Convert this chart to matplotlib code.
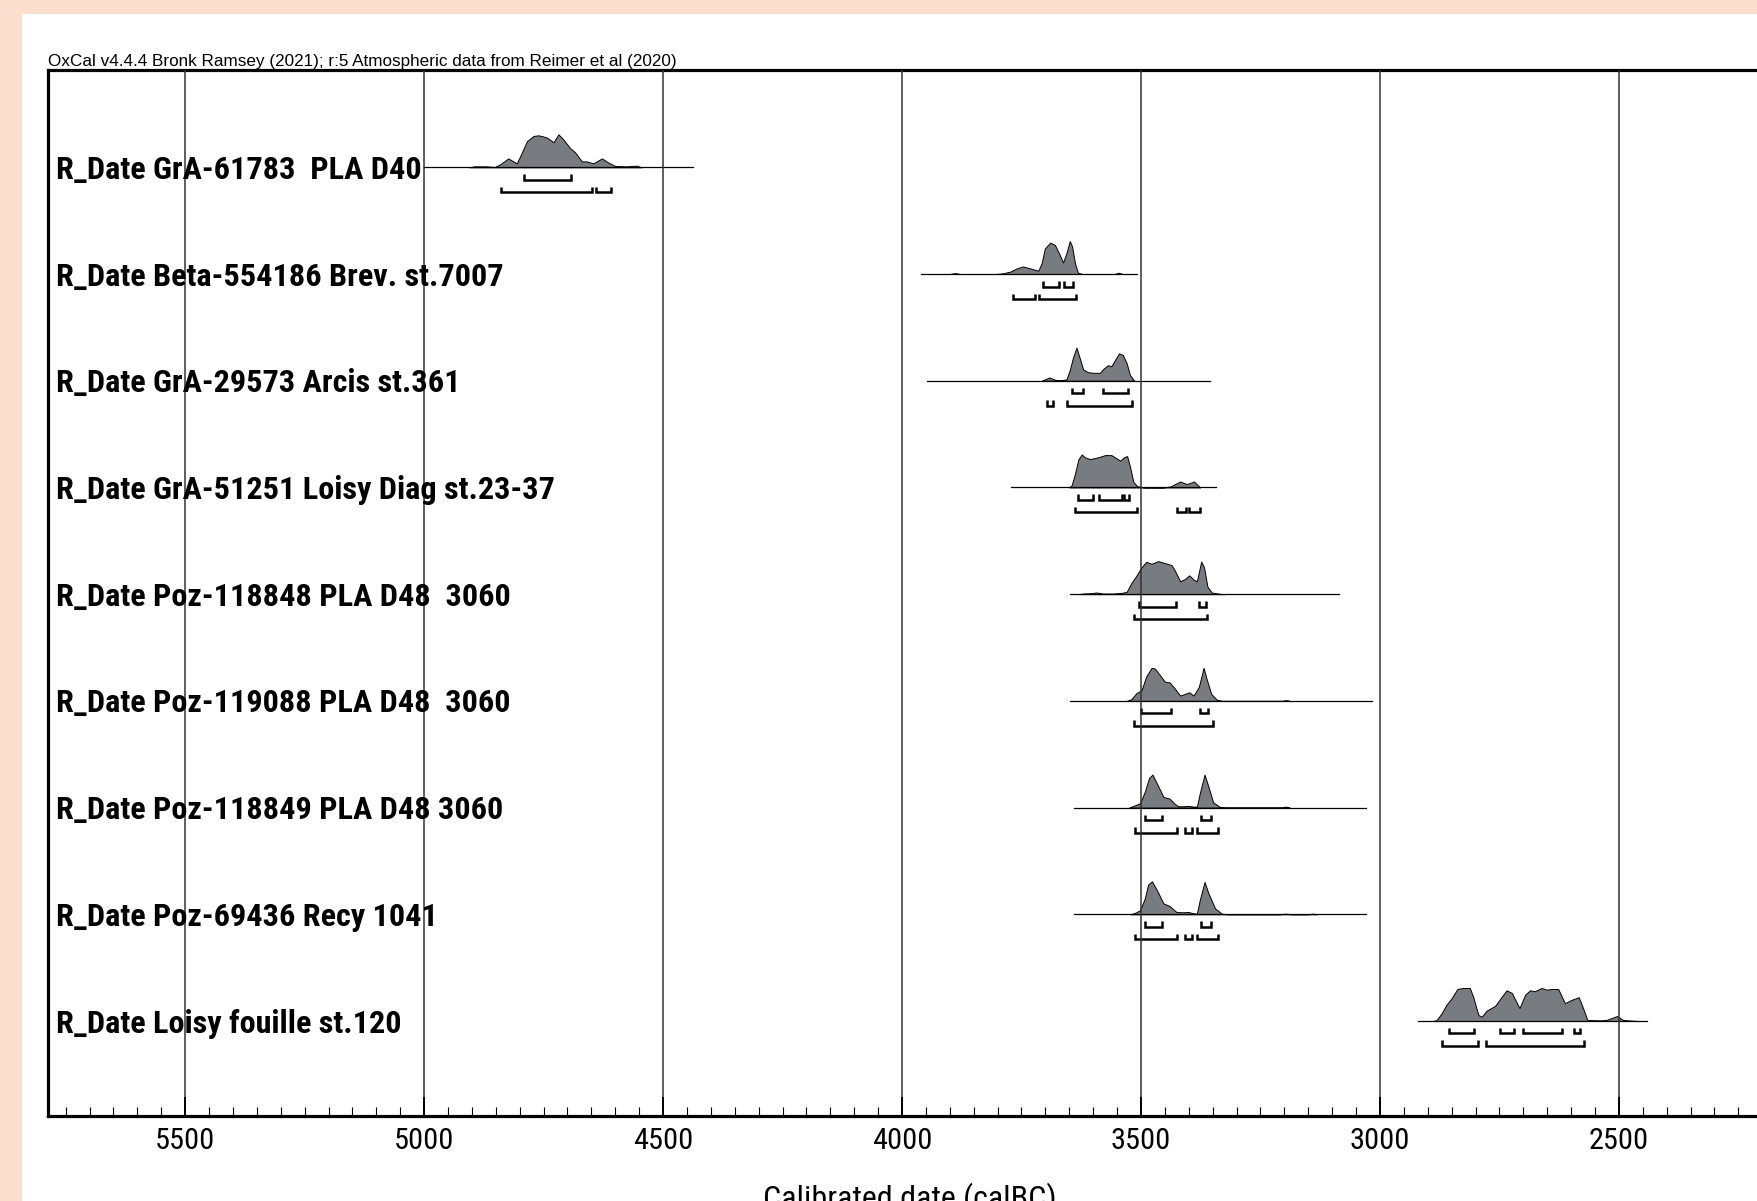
import matplotlib
matplotlib.use("Agg")
import matplotlib.pyplot as plt
from matplotlib import font_manager as fm
from matplotlib.font_manager import FontProperties
from matplotlib.ticker import MultipleLocator, FuncFormatter
from matplotlib.patches import Rectangle
import matplotlib.transforms as mtrans

# ---------------- data ----------------
labels = [
    "R_Date GrA-61783  PLA D40",
    "R_Date Beta-554186 Brev. st.7007",
    "R_Date GrA-29573 Arcis st.361",
    "R_Date GrA-51251 Loisy Diag st.23-37",
    "R_Date Poz-118848 PLA D48  3060",
    "R_Date Poz-119088 PLA D48  3060",
    "R_Date Poz-118849 PLA D48 3060",
    "R_Date Poz-69436 Recy 1041",
    "R_Date Loisy fouille st.120",
]

# extent of each row's baseline (calBC)
line_start = [5000, 3960, 3948, 3773, 3648, 3648, 3640, 3640, 2920]
line_end = [4438, 3508, 3356, 3344, 3085, 3017, 3029, 3029, 2442]

# relative probability curves (years calBC, relative height)
yrs1 = [4905, 4895, 4870, 4852, 4840, 4824, 4812, 4806, 4796, 4785, 4771, 4761, 4752, 4743,
        4729, 4719, 4709, 4695, 4684, 4670, 4660, 4646, 4628, 4614, 4600, 4576, 4555, 4545]
p1 = [0, 0.03, 0.03, 0.01, 0.10, 0.27, 0.17, 0.12, 0.43, 0.79, 0.95, 0.97, 0.94, 0.90,
      0.76, 1.0, 0.85, 0.59, 0.45, 0.18, 0.18, 0.12, 0.27, 0.14, 0.04, 0.03, 0.05, 0]

yrs2 = [3900, 3889, 3878, 3805, 3790, 3774, 3760, 3747, 3732, 3715, 3708, 3701, 3690, 3680,
        3670, 3663, 3656, 3649, 3644, 3638, 3632, 3622, 3555, 3547, 3538]
p2 = [0, 0.03, 0, 0, 0.02, 0.07, 0.17, 0.23, 0.17, 0.10, 0.32, 0.78, 0.95, 0.88,
      0.58, 0.35, 0.63, 1.0, 0.83, 0.32, 0.04, 0, 0, 0.04, 0]

yrs3 = [3708, 3701, 3692, 3680, 3670, 3656, 3649, 3642, 3635, 3628, 3621, 3611, 3600, 3586,
        3578, 3569, 3562, 3555, 3546, 3538, 3530, 3523, 3514]
p3 = [0, 0.04, 0.10, 0.03, 0.01, 0.04, 0.32, 0.72, 1.0, 0.68, 0.34, 0.26, 0.24, 0.24,
      0.37, 0.47, 0.44, 0.61, 0.83, 0.78, 0.53, 0.17, 0]

yrs4 = [3650, 3645, 3638, 3631, 3624, 3617, 3607, 3596, 3586, 3575, 3562, 3551, 3543, 3536,
        3529, 3523, 3516, 3508, 3499, 3490, 3454, 3438, 3429, 3418, 3404, 3389, 3382, 3376]
p4 = [0, 0.07, 0.42, 0.85, 1.0, 0.91, 0.86, 0.89, 0.93, 0.98, 0.98, 0.88, 0.81, 0.91,
      0.95, 0.63, 0.17, 0.04, 0.01, 0, 0, 0.03, 0.10, 0.18, 0.10, 0.18, 0.08, 0]

yrs5 = [3630, 3621, 3605, 3593, 3580, 3558, 3540, 3530, 3520, 3510, 3499, 3489, 3478, 3464,
        3450, 3436, 3429, 3418, 3408, 3399, 3390, 3383, 3374, 3368, 3361, 3352, 3335, 3325]
p5 = [0, 0.02, 0.03, 0.05, 0.02, 0.02, 0.04, 0.07, 0.34, 0.55, 0.81, 0.98, 0.92, 1.0,
      0.94, 0.88, 0.71, 0.39, 0.46, 0.57, 0.44, 0.39, 0.99, 0.81, 0.23, 0.05, 0.01, 0]

yrs6 = [3530, 3520, 3510, 3499, 3489, 3478, 3471, 3461, 3450, 3440, 3429, 3418, 3408, 3399,
        3390, 3379, 3369, 3362, 3353, 3341, 3330, 3205, 3197, 3189]
p6 = [0, 0.05, 0.23, 0.32, 0.74, 1.0, 0.98, 0.79, 0.58, 0.56, 0.37, 0.16, 0.21, 0.26,
      0.16, 0.42, 1.0, 0.63, 0.21, 0.03, 0, 0, 0.02, 0]

yrs7 = [3525, 3516, 3502, 3492, 3483, 3476, 3467, 3453, 3440, 3430, 3422, 3410, 3401, 3390,
        3383, 3377, 3367, 3359, 3349, 3335, 3325, 3205, 3197, 3189]
p7 = [0, 0.05, 0.13, 0.48, 0.90, 1.0, 0.74, 0.32, 0.27, 0.12, 0.04, 0.04, 0.05, 0.03,
      0.03, 0.43, 1.0, 0.64, 0.16, 0.02, 0, 0, 0.03, 0]

yrs8 = [3522, 3513, 3502, 3492, 3485, 3477, 3467, 3453, 3440, 3426, 3412, 3401, 3390, 3383,
        3377, 3367, 3359, 3345, 3331, 3320, 3210, 3197, 3185, 3150, 3141, 3132]
p8 = [0, 0.04, 0.12, 0.48, 0.90, 1.0, 0.74, 0.33, 0.25, 0.07, 0.06, 0.07, 0.03, 0.02,
      0.43, 0.98, 0.64, 0.18, 0.02, 0, 0, 0.02, 0, 0, 0.02, 0]

yrs9 = [2890, 2882, 2871, 2861, 2850, 2838, 2826, 2812, 2805, 2794, 2787, 2777, 2759, 2745,
        2735, 2724, 2708, 2696, 2686, 2676, 2662, 2651, 2641, 2627, 2613, 2599, 2584, 2575,
        2566, 2540, 2526, 2504, 2491, 2470, 2460]
p9 = [0, 0.02, 0.23, 0.49, 0.69, 0.97, 1.0, 1.0, 0.74, 0.18, 0.13, 0.31, 0.46, 0.74,
      0.93, 0.85, 0.39, 0.80, 0.93, 0.90, 1.0, 0.95, 0.97, 0.97, 0.54, 0.64, 0.72, 0.39,
      0.03, 0.02, 0.03, 0.15, 0.03, 0.01, 0]

curve_years = [yrs1, yrs2, yrs3, yrs4, yrs5, yrs6, yrs7, yrs8, yrs9]
curve_probs = [p1, p2, p3, p4, p5, p6, p7, p8, p9]

# 68.2% and 95.4% ranges (calBC)
r68 = [
    [(4790, 4693)],
    [(3704, 3671), (3661, 3642)],
    [(3645, 3621), (3579, 3527)],
    [(3631, 3601), (3587, 3540), (3536, 3525)],
    [(3504, 3427), (3379, 3364)],
    [(3500, 3438), (3377, 3359)],
    [(3492, 3457), (3374, 3354)],
    [(3492, 3457), (3374, 3354)],
    [(2856, 2803), (2749, 2719), (2700, 2618), (2594, 2582)],
]
r95 = [
    [(4839, 4649), (4640, 4609)],
    [(3767, 3722), (3713, 3636)],
    [(3697, 3685), (3654, 3518)],
    [(3638, 3509), (3424, 3405), (3399, 3376)],
    [(3515, 3361)],
    [(3515, 3350)],
    [(3513, 3424), (3408, 3394), (3382, 3338)],
    [(3513, 3424), (3408, 3394), (3382, 3338)],
    [(2870, 2794), (2778, 2573)],
]

title = "OxCal v4.4.4 Bronk Ramsey (2021); r:5 Atmospheric data from Reimer et al (2020)"
xlabel = "Calibrated date (calBC)"


# ---------------- fonts ----------------
def _is_bold(w):
    if isinstance(w, (int, float)):
        return w >= 600
    return "bold" in str(w).lower() or "heavy" in str(w).lower() or "black" in str(w).lower()


def _is_regular(w):
    if isinstance(w, (int, float)):
        return 350 <= w <= 500
    return str(w).lower() in ("normal", "regular", "book", "roman", "medium")


def find_narrow(bold):
    prefs = ["liberation sans narrow", "arial narrow", "roboto condensed", "noto sans",
             "open sans", "noto sans condensed", "dejavu sans condensed", "dejavu sans"]
    best = None
    for f in fm.fontManager.ttflist:
        nm = f.name.lower()
        fn = f.fname.lower()
        st = str(f.stretch).lower()
        narrow = ("narrow" in nm or "condensed" in nm or "narrow" in fn or
                  ("condensed" in fn and "semi" not in fn and "extra" not in fn) or
                  st == "condensed")
        if not narrow or f.style != "normal":
            continue
        if bold and not _is_bold(f.weight):
            continue
        if not bold and not _is_regular(f.weight):
            continue
        if "mono" in nm or "serif" in nm:
            continue
        rank = len(prefs)
        for k, p in enumerate(prefs):
            if nm.startswith(p):
                rank = k
                break
        if best is None or rank < best[0]:
            best = (rank, f.fname)
    if best is not None:
        return FontProperties(fname=best[1])
    return FontProperties(family="Liberation Sans", weight="bold" if bold else "normal")


fp_label = find_narrow(True)
fp_tick = find_narrow(False)
names = {f.name for f in fm.fontManager.ttflist}
REG = "Liberation Sans" if "Liberation Sans" in names else "DejaVu Sans"

# ---------------- figure ----------------
W, H = 1757, 1201
fig = plt.figure(figsize=(W / 100, H / 100), dpi=100, facecolor="#fddfd0")
fig.patches.append(Rectangle((22 / W, 0), 1 - 22 / W, 1 - 14 / H, transform=fig.transFigure,
                             facecolor="white", edgecolor="none", zorder=-10))
renderer = fig.canvas.get_renderer()


def fit_size(strings, fp, target_px, max_pt):
    t = fig.text(0, 0, "", fontproperties=fp.copy())
    t.set_fontsize(20)
    tot = 0
    for s in strings:
        t.set_text(s)
        tot += t.get_window_extent(renderer).width
    t.remove()
    return min(max_pt, 20 * target_px / tot)


lab_size = fit_size([labels[1], labels[2], labels[3], labels[7], labels[8]], fp_label,
                    2078, 24.5)
tick_size = fit_size(["5500", "4000", "2500"], fp_tick, 3 * 60, 24)
xl_size = fit_size([xlabel], fp_tick, 292, 24.5)

ax_left, ax_top, ax_bottom = 48, 70, 1116
ax = fig.add_axes([ax_left / W, 1 - ax_bottom / H, 1 - ax_left / W, (ax_bottom - ax_top) / H])
ax.set_facecolor("white")

row_px = 106.7
ax.set_xlim(5787, 2211)
ax.set_ylim(-8 - 95 / row_px, (167.3 - ax_top) / row_px)

peak_h = 33 / row_px
off68 = -12.5 / row_px
off95 = -25.0 / row_px
tick_h = 5.5 / row_px

for i in range(len(labels)):
    y0 = -i
    ax.plot([line_start[i], line_end[i]], [y0, y0], color="black", lw=0.9, zorder=2)
    ys = [y0 + p * peak_h for p in curve_probs[i]]
    ax.fill_between(curve_years[i], y0, ys, facecolor="#787b80", edgecolor="black",
                    linewidth=0.7, zorder=1.5)
    for rngs, off in ((r68[i], off68), (r95[i], off95)):
        for a, b in rngs:
            yb = y0 + off
            ax.plot([a, a, b, b], [yb + tick_h, yb, yb, yb + tick_h], color="black",
                    lw=1.8, solid_joinstyle="miter", solid_capstyle="butt", zorder=2)

trans = mtrans.blended_transform_factory(ax.transAxes, ax.transData)
cap_px = 0.716 * lab_size * 100 / 72
for i, lab in enumerate(labels):
    fpl = fp_label.copy()
    fpl.set_size(lab_size)
    ax.text((56 - ax_left) / (W - ax_left), -i - (cap_px / 2) / row_px, lab, transform=trans,
            fontproperties=fpl, va="baseline", ha="left", color="black", zorder=3)

# axes styling
for s in ("left", "top", "bottom"):
    ax.spines[s].set_linewidth(2.3)
    ax.spines[s].set_color("black")
ax.spines["right"].set_visible(False)
ax.set_yticks([])
ax.xaxis.set_major_locator(MultipleLocator(500))
ax.xaxis.set_minor_locator(MultipleLocator(50))
ax.xaxis.set_major_formatter(FuncFormatter(lambda v, p: f"{int(round(v))}"))
ax.tick_params(axis="x", which="major", direction="in", length=14, width=1.4, pad=8, top=False)
ax.tick_params(axis="x", which="minor", direction="in", length=6.5, width=0.8, top=False)
for t in ax.get_xticklabels():
    fpt = fp_tick.copy()
    fpt.set_size(tick_size)
    t.set_fontproperties(fpt)
ax.set_axisbelow(False)
ax.grid(axis="x", which="major", color="#333333", linewidth=1.1)

fig.text(48 / W, 1 - 66 / H, title, fontfamily=REG, fontsize=12.3, ha="left", va="baseline")
fpx = fp_tick.copy()
fpx.set_size(xl_size)
fig.text(910 / W, 1 - 1182 / H, xlabel, fontproperties=fpx, ha="center", va="top")

fig.savefig("out.png", dpi=100, facecolor=fig.get_facecolor())
